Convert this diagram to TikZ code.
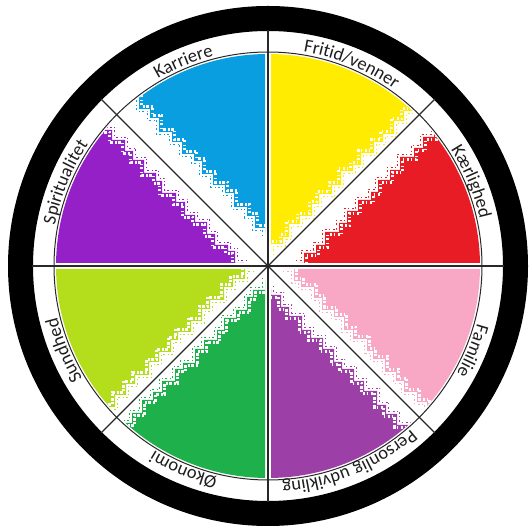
\documentclass[tikz,border=0pt]{standalone}
\usepackage{fontspec}
\newfontfamily\lblfam[LetterSpace=6]{Carlito}
\usetikzlibrary{decorations.text,calc}
\definecolor{cBlue}{RGB}{8,158,224}
\definecolor{cYellow}{RGB}{255,236,0}
\definecolor{cRed}{RGB}{232,28,36}
\definecolor{cPink}{RGB}{248,168,196}
\definecolor{cPurpleB}{RGB}{156,64,168}
\definecolor{cGreen}{RGB}{30,176,74}
\definecolor{cLime}{RGB}{180,222,28}
\definecolor{cPurpleA}{RGB}{150,32,200}
\definecolor{lineC}{RGB}{40,40,40}
\definecolor{txtC}{RGB}{30,30,30}
\newcommand\lblfont{\lblfam\fontsize{18.5}{19}\selectfont\color{txtC}}
\def\stepsA{6/10, 12/8, 9/13, 14/9, 8/12, 11/11, 13/8, 7/12, 12/10, 10/13, 14/9, 9/11, 11/12, 8/10, 13/11, 10/12, 12/9, 9/12, 11/10, 10/11, 12/12, 10/10}
\def\stepsB{9/12, 7/6, 13/11, 8/12, 12/7, 10/13, 9/9, 14/12, 6/8, 12/13, 11/9, 8/11, 13/10, 10/12, 9/10, 12/11, 11/12, 10/9, 12/12, 9/11, 11/10, 10/12}
\newcommand\sectorfill[5]{%
\begin{scope}[shift={(C)}, rotate=#1, yscale=#2]
 \clip (0,0) circle (212);
 \clip (0,0) -- (260,0) -- (260,260) -- cycle;
 \fill[#3] (#4,3) foreach \a/\b in #5 { -- ++(\a,0) -- ++(0,\b) } -- (300,3) -- cycle;
 \draw[white, line width=2.2, dash pattern=on 1.5pt off 2.5pt on 2.5pt off 1.5pt] ([shift={(2.5,-2.5)}]#4,3) foreach \a/\b in #5 { -- ++(\a,0) -- ++(0,\b) };
 \draw[#3, line width=1.6, dash pattern=on 1pt off 3pt on 2pt off 2pt] ([shift={(-2.5,2.5)}]#4,3) foreach \a/\b in #5 { -- ++(\a,0) -- ++(0,\b) };
\end{scope}}
\newcommand\ringlabel[2]{%
 \path[shift={(C)}, decorate, decoration={text along path, text align=center, text={|\lblfont|#2}}] (#1+22:217) arc[start angle=#1+22, end angle=#1-22, radius=217];}
\begin{document}
\begin{tikzpicture}[x=1pt,y=1pt]
\useasboundingbox (0,0) rectangle (529,530);
\fill[white] (0,0) rectangle (529,530);
\coordinate (C) at (268,264);
% black ring
\fill[black, even odd rule] (C) circle (260) (C) circle (235);
% coloured sectors
\sectorfill{90}{1}{cBlue}{32}{\stepsA}
\sectorfill{180}{-1}{cPurpleA}{24}{\stepsB}
\sectorfill{180}{1}{cLime}{17}{\stepsA}
\sectorfill{270}{-1}{cGreen}{15}{\stepsB}
\sectorfill{270}{1}{cPurpleB}{23}{\stepsA}
\sectorfill{0}{-1}{cPink}{17}{\stepsB}
\sectorfill{0}{1}{cRed}{30}{\stepsA}
\sectorfill{90}{-1}{cYellow}{13}{\stepsB}
% inner circle and spokes
\draw[lineC, line width=1] (C) circle (214);
\foreach \i in {0,...,7} {
  \coordinate (P\i) at ($(C)+(\i*45:236)$);
}
\foreach \i in {0,...,7} {
  \draw[lineC, line width=1.2] (C) -- (P\i);
}
% labels
\ringlabel{112.5}{Karriere}
\ringlabel{67.5}{Fritid/venner}
\ringlabel{22.5}{Kærlighed}
\ringlabel{-22.5}{Familie}
\ringlabel{-67.5}{Personlig udvikling}
\ringlabel{-112.5}{Økonomi}
\ringlabel{-157.5}{Sundhed}
\ringlabel{157.5}{Spiritualitet}
\end{tikzpicture}
\end{document}
